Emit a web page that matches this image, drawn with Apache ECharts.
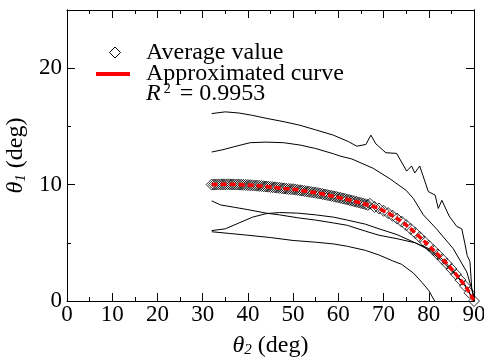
<!DOCTYPE html>
<html>
<head>
<meta charset="utf-8">
<script src="https://cdn.jsdelivr.net/npm/echarts@6/dist/echarts.min.js"></script>
<style>
  html, body { margin: 0; padding: 0; background: #fff; }
  #chart { width: 484px; height: 360px; }
</style>
</head>
<body>
<div id="chart"></div>
<script>
// average value of theta1 for each theta2 (dense part every 0.5 deg)
const avgX = [
  32, 32.5, 33, 33.5, 34, 34.5, 35, 35.5, 36, 36.5, 37, 37.5, 38, 38.5, 39, 39.5,
  40, 40.5, 41, 41.5, 42, 42.5, 43, 43.5, 44, 44.5, 45, 45.5, 46, 46.5, 47, 47.5,
  48, 48.5, 49, 49.5, 50, 50.5, 51, 51.5, 52, 52.5, 53, 53.5, 54, 54.5, 55, 55.5,
  56, 56.5, 57, 57.5, 58, 58.5, 59, 59.5, 60, 60.5, 61, 61.5, 62, 62.5, 63, 63.5,
  64, 64.5, 65, 65.5, 66, 66.5, 67,
  68, 69, 70, 71, 72, 73, 74, 75, 76, 77, 78, 79, 80, 81, 82, 83, 84, 85, 86, 87, 88, 89, 90
]
const avgY = [
  10.00, 10.00, 10.01, 10.01, 10.02, 10.02, 10.02, 10.02, 10.02, 10.01, 10.01, 10.00, 10.00, 9.99, 9.98, 9.97,
  9.96, 9.95, 9.94, 9.92, 9.91, 9.89, 9.88, 9.86, 9.84, 9.82, 9.80, 9.78, 9.76, 9.74, 9.72, 9.69,
  9.67, 9.64, 9.62, 9.61, 9.60, 9.57, 9.54, 9.51, 9.48, 9.45, 9.42, 9.39, 9.36, 9.33, 9.30, 9.27,
  9.23, 9.19, 9.15, 9.11, 9.07, 9.03, 8.99, 8.95, 8.90, 8.86, 8.81, 8.77, 8.72, 8.67, 8.62, 8.57,
  8.52, 8.47, 8.42, 8.37, 8.31, 8.26, 8.35,
  8.08, 7.95, 7.75, 7.55, 7.32, 7.08, 6.82, 6.52, 6.20, 5.85, 5.50, 5.12, 4.75, 4.38, 4.00, 3.60, 3.20, 2.75, 2.30, 1.80, 1.30, 0.70, 0.00
]

// approximated curve
const fitX = [32, 34, 36, 38, 40, 42, 44, 46, 48, 50, 52, 54, 56, 58, 60, 62, 64, 66, 68, 70, 72, 74, 76, 78, 80, 82, 84, 86, 88, 89, 90]
const fitY = [10.0, 10.02, 10.02, 10.0, 9.96, 9.91, 9.84, 9.76, 9.67, 9.6, 9.48, 9.36, 9.23, 9.07, 8.9, 8.72, 8.52, 8.31, 8.08, 7.75, 7.32, 6.82, 6.2, 5.5, 4.75, 4.0, 3.2, 2.3, 1.3, 0.7, 0]

// thin black lines (spread of the data)
const lineA = [[32, 16.1], [35, 16.25], [38, 16.15], [41, 15.95], [44, 15.7], [48, 15.4], [51.5, 15.1], [55, 14.7],
  [58.9, 14.25], [62.2, 13.7], [64.1, 13.3], [66.1, 13.45], [67.2, 14.25], [68.3, 13.5], [70.5, 12.74], [72.9, 12.68],
  [75.1, 11.16], [76.2, 11.6], [76.9, 11.0], [78.0, 11.6], [79.9, 9.4], [81.4, 9.1], [82.1, 7.95], [82.9, 8.65],
  [84.5, 7.3], [86.2, 6.4], [87.3, 6.2], [88.0, 4.9], [88.5, 3.9], [89.1, 3.4], [89.5, 1.1], [90, 0]]
const lineB = [[32, 12.8], [34.5, 13.0], [36.9, 13.25], [40.5, 13.6], [44, 13.65], [47.9, 13.6], [51.5, 13.4], [55, 13.1],
  [58.9, 12.65], [60.4, 12.45], [63, 12.2], [67.7, 11.4], [71.4, 10.5], [75, 9.5], [76.6, 8.8], [78.8, 7.4],
  [81.7, 6.2], [85.4, 4.5], [88.4, 2.5], [89.9, 0.5], [90, 0]]
const lineC = [[32, 8.6], [34, 8.25], [37, 8.05], [40, 7.85], [44, 7.55], [47, 7.4], [51, 7.15], [55, 6.95],
  [59, 6.7], [62, 6.5], [66, 6.0], [69, 5.65], [73, 5.35], [77, 5.0], [80, 4.5], [83, 3.6], [86, 2.3], [88, 1.4], [90, 0]]
const lineD = [[32, 6.05], [35, 6.2], [38, 6.7], [41, 7.2], [44, 7.5], [47, 7.6], [51, 7.55], [55, 7.4],
  [59, 7.2], [62, 6.95], [66, 6.6], [69, 6.2], [73, 5.7], [77, 5.0], [80, 4.4], [83, 3.4], [86, 2.2], [88, 1.3], [90, 0]]
const lineE = [[32, 5.95], [36, 5.8], [40, 5.65], [45, 5.45], [50, 5.2], [55, 5.05], [59, 4.9], [62, 4.7],
  [66, 4.35], [69, 3.95], [72, 3.45], [74, 3.15], [76.6, 2.4], [78.5, 1.6], [80, 0.9], [81.3, 0]]

const xLabels = [0, 10, 20, 30, 40, 50, 60, 70, 80, 90]
const yLabels = [0, 10, 20]

const serif = 'Liberation Serif'

const chart = echarts.init(document.getElementById('chart'))

const noText = () => ''

function xAxisOpt(extra) {
  return Object.assign({
    type: 'value', min: 0, max: 90, interval: 10,
    axisLine: { show: true, onZero: false, lineStyle: { color: '#000', width: 1 } },
    axisTick: { show: true, inside: true, length: 8, lineStyle: { color: '#000', width: 1 } },
    minorTick: { show: true, splitNumber: 2, length: 4, lineStyle: { color: '#000', width: 1 } },
    splitLine: { show: false }
  }, extra)
}

// short ticks every 5
function yShort(extra) {
  return Object.assign({
    type: 'value', min: 0, max: 25, interval: 5,
    axisLine: { show: true, onZero: false, lineStyle: { color: '#000', width: 1 } },
    axisTick: { show: true, inside: true, length: 4, lineStyle: { color: '#000', width: 1 } },
    splitLine: { show: false }
  }, extra)
}

// long ticks at 0, 10, 20
function yLong(extra) {
  return Object.assign({
    type: 'value', min: 0, max: 25, interval: 10,
    axisLine: { show: true, onZero: false, lineStyle: { color: '#000', width: 1 } },
    axisLabel: { show: true, formatter: noText },
    axisTick: { show: true, inside: true, length: 8, lineStyle: { color: '#000', width: 1 } },
    splitLine: { show: false }
  }, extra)
}

function thin(data) {
  return {
    type: 'line', data: data, symbol: 'none', silent: true,
    lineStyle: { color: '#000', width: 1 }, z: 2
  }
}

const nameStyle = {
  color: '#000', fontFamily: serif, fontSize: 24,
  rich: {
    i: { fontFamily: serif, fontStyle: 'italic', fontSize: 24, color: '#000' },
    s: { fontFamily: serif, fontStyle: 'italic', fontSize: 15, color: '#000', verticalAlign: 'bottom', lineHeight: 15 }
  }
}

const option = {
  animation: false,
  backgroundColor: '#fff',
  grid: { left: 67, right: 10, top: 10, bottom: 59, containLabel: false, outerBoundsMode: 'none' },
  xAxis: [
    xAxisOpt({
      position: 'bottom',
      name: '{i|θ}{s|2} (deg)',
      nameLocation: 'middle',
      nameGap: 33,
      nameTextStyle: nameStyle,
      axisLabel: { show: true, color: '#000', fontFamily: serif, fontSize: 23, margin: 2, customValues: xLabels }
    }),
    xAxisOpt({ position: 'top', axisLabel: { show: true, formatter: noText } })
  ],
  yAxis: [
    yShort({
      position: 'left',
      name: '{i|θ}{s|1} (deg)',
      nameLocation: 'middle',
      nameGap: 30,
      nameTextStyle: nameStyle,
      axisLabel: { show: true, color: '#000', fontFamily: serif, fontSize: 23, margin: 5, customValues: yLabels }
    }),
    yShort({ position: 'right', axisLabel: { show: true, formatter: noText } }),
    yLong({ position: 'left' }),
    yLong({ position: 'right' })
  ],
  series: [
    thin(lineA), thin(lineB), thin(lineC), thin(lineD), thin(lineE),
    {
      name: 'Average value',
      type: 'scatter',
      data: avgX.map((x, i) => [x, avgY[i]]),
      symbol: 'diamond',
      symbolSize: 11,
      itemStyle: { color: 'rgba(0,0,0,0)', borderColor: '#000', borderWidth: 1 },
      z: 3
    },
    {
      name: 'Approximated curve',
      type: 'line',
      data: fitX.map((x, i) => [x, fitY[i]]),
      symbol: 'none',
      smooth: true,
      lineStyle: { color: '#f00', width: 3.5, type: [6, 3] },
      z: 4
    }
  ],
  graphic: [
    {
      type: 'polygon',
      shape: { points: [[115, 47], [120.5, 52.5], [115, 58], [109.5, 52.5]] },
      style: { fill: 'rgba(0,0,0,0)', stroke: '#000', lineWidth: 1 }
    },
    {
      type: 'line',
      shape: { x1: 96, y1: 74, x2: 130, y2: 74 },
      style: { stroke: '#f00', lineWidth: 4 }
    },
    {
      type: 'text', left: 146, top: 41,
      style: { text: 'Average value', fill: '#000', font: '24px "Liberation Serif"' }
    },
    {
      type: 'text', left: 146, top: 62,
      style: { text: 'Approximated curve', fill: '#000', font: '24px "Liberation Serif"' }
    },
    {
      type: 'text', left: 146, top: 82,
      style: {
        text: '{r|R}{p|2}{n| = 0.9953}',
        fill: '#000',
        font: '24px "Liberation Serif"',
        rich: {
          r: { fontFamily: serif, fontStyle: 'italic', fontSize: 24, fill: '#000', lineHeight: 24 },
          p: { fontFamily: serif, fontSize: 14, fill: '#000', verticalAlign: 'top', lineHeight: 14, padding: [0, 3, 0, 3] },
          n: { fontFamily: serif, fontSize: 24, fill: '#000', lineHeight: 24 }
        }
      }
    }
  ]
}

chart.setOption(option)
</script>
</body>
</html>
